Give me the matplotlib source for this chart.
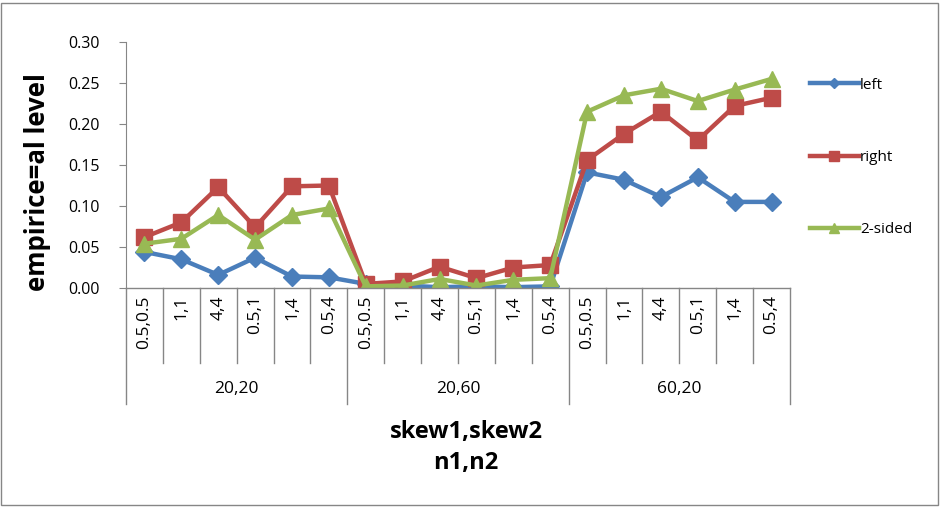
import numpy as np
import matplotlib.pyplot as plt
from matplotlib.patches import Rectangle

plt.rcParams['font.family'] = ['Open Sans', 'DejaVu Sans']

# skew pairs, repeated within each sample-size group
skews = ['0.5,0.5', '1,1', '4,4', '0.5,1', '1,4', '0.5,4']
groups = ['20,20', '20,60', '60,20']

left = [0.044, 0.035, 0.016, 0.037, 0.014, 0.013,
        0.005, 0.003, 0.001, 0.002, 0.001, 0.002,
        0.141, 0.132, 0.111, 0.135, 0.105, 0.105]
right = [0.062, 0.080, 0.123, 0.074, 0.124, 0.125,
         0.005, 0.008, 0.026, 0.012, 0.025, 0.028,
         0.156, 0.188, 0.215, 0.180, 0.222, 0.232]
two_sided = [0.054, 0.060, 0.089, 0.059, 0.089, 0.097,
             0.002, 0.003, 0.011, 0.003, 0.010, 0.012,
             0.215, 0.235, 0.243, 0.228, 0.242, 0.255]

W, H = 946, 508
fig = plt.figure(figsize=(W / 100, H / 100), dpi=100)
ax = fig.add_axes([126 / W, (H - 288) / H, 664 / W, 246 / H])

n = len(skews) * len(groups)
x = np.arange(n) + 0.5
ax.plot(x, left, color='#4A7EBB', lw=3.2, marker='D', ms=9, label='left')
ax.plot(x, right, color='#BE4B48', lw=3.2, marker='s', ms=11, label='right')
ax.plot(x, two_sided, color='#98B954', lw=3.2, marker='^', ms=11, label='2-sided')

ax.set_xlim(0, n)
ax.set_ylim(0, 0.30)
ax.set_yticks(np.arange(0, 0.31, 0.05))
ax.set_yticklabels(['%.2f' % v for v in np.arange(0, 0.31, 0.05)], fontsize=11.5)
ax.tick_params(axis='y', direction='out', length=5, color='#868686', pad=14)
ax.set_xticks([])
for s in ['top', 'right', 'bottom']:
    ax.spines[s].set_visible(False)
ax.spines['left'].set_color('#868686')
ax.axhline(0, color='#868686', lw=1, clip_on=False)

# two-level category axis below the plot
tr = ax.get_xaxis_transform()
inner = -75 / 246
outer = -116 / 246
for i in range(n + 1):
    bottom = outer if i % len(skews) == 0 else inner
    ax.plot([i, i], [0, bottom], color='#868686', lw=1, transform=tr, clip_on=False)
for i in range(n):
    ax.text(i + 0.5, -0.03, skews[i % len(skews)], transform=tr, rotation=90,
            ha='center', va='top', fontsize=12.5)
for g, name in enumerate(groups):
    ax.text(g * len(skews) + len(skews) / 2, -101 / 246, name, transform=tr,
            ha='center', va='center', fontsize=12.5)

fig.text(466 / W, 1 - 432 / H, 'skew1,skew2', ha='center', va='center',
         fontsize=17, fontweight='bold')
fig.text(466 / W, 1 - 463 / H, 'n1,n2', ha='center', va='center',
         fontsize=17, fontweight='bold')
fig.text(38 / W, 1 - 182 / H, 'empirice=al level', ha='center', va='center',
         rotation=90, fontsize=18.5, fontweight='bold')

leg = ax.legend(loc='upper left', bbox_to_anchor=(796 / W, 1 - 64 / H),
                bbox_transform=fig.transFigure, frameon=False, fontsize=11,
                labelspacing=3.75, handlelength=3.2, handletextpad=0.1,
                markerscale=0.6)

fig.patches.append(Rectangle((1 / W, 3 / H), 937 / W, 502 / H, fill=False,
                             edgecolor='#868686', lw=1, transform=fig.transFigure))

plt.savefig('out.png', dpi=100)
